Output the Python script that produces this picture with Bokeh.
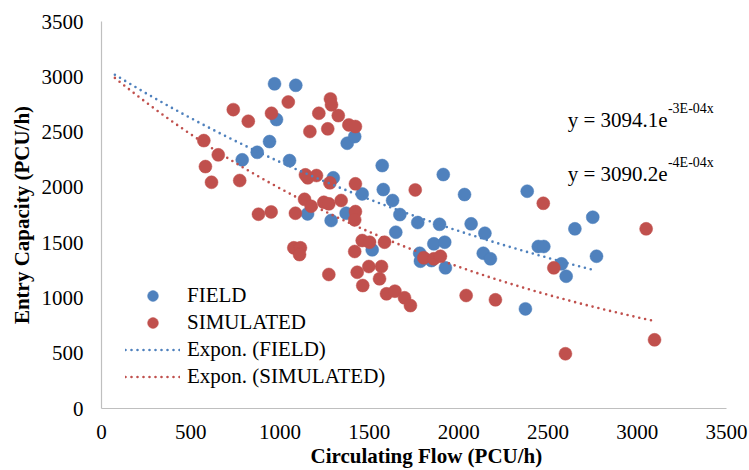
import numpy as np
from bokeh.plotting import figure
from bokeh.models import Range1d, FixedTicker, Legend, LegendItem, Label, Title
from bokeh.embed import file_html
from bokeh.resources import INLINE

# ---- data ----
field_flow = [969, 1088, 980, 941, 872, 788, 1053, 1154, 1376, 1418, 1572, 1914,
              1298, 1578, 1460, 2033, 1630, 1370, 1286, 1671, 1771, 1893, 2070,
              2147, 1648, 1861, 1922, 1516, 1782, 1786, 1848, 1926, 2138, 2178,
              2384, 2751, 2651, 2446, 2477, 2772, 2576, 2602, 2374]
field_cap = [2936, 2923, 2613, 2414, 2317, 2249, 2242, 1760, 2399, 2459, 2197, 2116,
             2086, 1980, 1941, 1935, 1881, 1766, 1700, 1754, 1682, 1666, 1670,
             1585, 1594, 1489, 1504, 1435, 1404, 1332, 1338, 1272, 1404, 1354,
             1965, 1730, 1625, 1465, 1465, 1377, 1308, 1196, 901]

sim_flow = [738, 822, 1046, 952, 1167, 1217, 573, 654, 582, 616, 774, 1142, 1155,
            1204, 1137, 1174, 879, 950, 1086, 1077, 1114, 1109, 1282, 1288, 1326,
            1267, 1385, 1422, 1279, 1422, 1757, 1245, 1273, 1342, 1422, 1418, 1460,
            1501, 1585, 1418, 1805, 1861, 1898, 1273, 1432, 1497, 1568, 1463, 1557,
            1596, 1643, 1697, 1730, 2042, 2206, 2474, 3050, 2533, 3097, 2598]
sim_cap = [2703, 2598, 2772, 2670, 2505, 2670, 2423, 2294, 2188, 2046, 2062, 2113,
           2086, 2107, 1892, 1829, 1757, 1778, 1766, 1453, 1453, 1392, 2800, 2746,
           2649, 2529, 2565, 2550, 2041, 2032, 1977, 1865, 1851, 1881, 1781, 1706,
           1519, 1504, 1504, 1420, 1363, 1354, 1377, 1212, 1232, 1284, 1284, 1112,
           1173, 1037, 1061, 1001, 931, 1022, 983, 1856, 1625, 1272, 621, 495]

x_ticks = [0, 500, 1000, 1500, 2000, 2500, 3000, 3500]
y_ticks = [0, 500, 1000, 1500, 2000, 2500, 3000, 3500]

# exponential trendlines  y = a * exp(-k x)
field_a, field_k = 3094.1, 3.28e-4
sim_a, sim_k = 3090.2, 4.4e-4
trend_start = 75
field_eq = ("y = 3094.1e", "-3E-04x")
sim_eq = ("y = 3090.2e", "-4E-04x")

series_names = ["FIELD", "SIMULATED", "Expon. (FIELD)", "Expon. (SIMULATED)"]
x_title = "Circulating Flow (PCU/h)"
y_title = "Entry Capacity (PCU/h)"

BLUE = "#4F81BD"
RED = "#C0504D"
FONT = "Liberation Serif"

p = figure(frame_width=625, frame_height=387, min_border_left=101, min_border_right=23,
           min_border_top=21, min_border_bottom=62,
           x_range=Range1d(0, 3500), y_range=Range1d(0, 3500),
           output_backend="svg", toolbar_location=None,
           background_fill_color="white", border_fill_color="white")
p.outline_line_color = None
p.grid.visible = False

for ax, ticks in ((p.xaxis[0], x_ticks), (p.yaxis[0], y_ticks)):
    ax.ticker = FixedTicker(ticks=ticks)
    ax.axis_line_color = "#BFBFBF"
    ax.axis_line_width = 1.2
    ax.major_tick_line_color = None
    ax.minor_tick_line_color = None
    ax.major_tick_out = 0
    ax.major_tick_in = 0
    ax.major_label_text_font = FONT
    ax.major_label_text_font_size = "21px"
    ax.major_label_text_color = "black"

p.xaxis.major_label_standoff = 16
p.yaxis.major_label_standoff = 18

p.yaxis.axis_label = y_title
p.yaxis.axis_label_text_font = FONT
p.yaxis.axis_label_text_font_size = "21px"
p.yaxis.axis_label_text_font_style = "bold"
p.yaxis.axis_label_text_color = "black"
p.yaxis.axis_label_standoff = 5

r_field = p.scatter(field_flow, field_cap, size=13, fill_color=BLUE, line_color=BLUE, line_width=0.5)
r_sim = p.scatter(sim_flow, sim_cap, size=13, fill_color=RED, line_color=RED, line_width=0.5)

fx = np.linspace(trend_start, max(field_flow), 200)
sx = np.linspace(trend_start, max(sim_flow), 200)
r_ft = p.line(fx, field_a * np.exp(-field_k * fx), line_color=BLUE, line_width=2.6,
              line_dash="0 6", line_cap="round")
r_st = p.line(sx, sim_a * np.exp(-sim_k * sx), line_color=RED, line_width=2.6,
              line_dash="0 6", line_cap="round")

# equations
for (base, sup), yb, ys in ((field_eq, 2610, 2711), (sim_eq, 2122, 2223)):
    p.add_layout(Label(x=3170, y=yb, text=base, text_align="right", text_baseline="alphabetic",
                       text_font=FONT, text_font_size="21px", text_color="black"))
    p.add_layout(Label(x=3172, y=ys, text=sup, text_align="left", text_baseline="alphabetic",
                       text_font=FONT, text_font_size="14px", text_color="black"))

# x axis title (offset to the right, as in the original)
p.add_layout(Title(text=x_title, align="left", offset=209, standoff=0,
                   text_font=FONT, text_font_size="21px", text_font_style="bold",
                   text_color="black"), "below")

legend = Legend(items=[LegendItem(label=series_names[0], renderers=[r_field]),
                       LegendItem(label=series_names[1], renderers=[r_sim]),
                       LegendItem(label=series_names[2], renderers=[r_ft]),
                       LegendItem(label=series_names[3], renderers=[r_st])],
                location=(24, 18), orientation="vertical",
                padding=0, margin=0, spacing=0,
                glyph_width=55, glyph_height=27, label_height=27, label_standoff=7,
                label_text_font=FONT, label_text_font_size="21px", label_text_color="black",
                border_line_color=None, background_fill_alpha=0)
p.add_layout(legend)

open("out.html", "w").write(file_html(p, INLINE))
